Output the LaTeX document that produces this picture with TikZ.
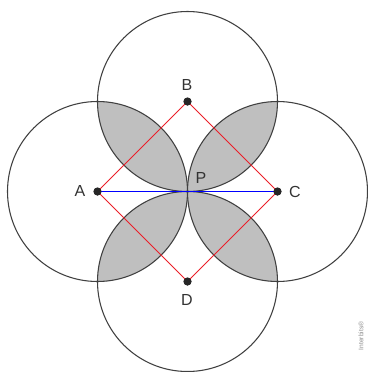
\documentclass[tikz,border=0pt]{standalone}
\usepackage{fontspec}
\setmainfont{Liberation Sans}
\definecolor{sidered}{RGB}{235,30,40}
\begin{document}
\begin{tikzpicture}[x=0.75pt,y=-0.75pt,
  circ/.style={draw=black!75,line width=0.8pt},
  lens/.style={fill=black!25},
  side/.style={draw=sidered,line width=0.6pt},
  acline/.style={draw=blue,line width=1pt},
  pt/.style={circle,fill=black!85,inner sep=0pt,minimum size=6pt},
  lbl/.style={text=black!80,font=\fontsize{12}{13}\selectfont,inner sep=0pt}]
\useasboundingbox (0,0) rectangle (368,372);
\coordinate (cA) at (97.5,191.5);
\coordinate (cB) at (187.5,101.5);
\coordinate (cC) at (277.5,191.5);
\coordinate (cD) at (187.5,281.5);
\coordinate (cP) at (187.5,191.5);
% lenses
\begin{scope}\clip (cA) circle (67.5pt); \fill[lens] (cB) circle (67.5pt);\end{scope}
\begin{scope}\clip (cB) circle (67.5pt); \fill[lens] (cC) circle (67.5pt);\end{scope}
\begin{scope}\clip (cC) circle (67.5pt); \fill[lens] (cD) circle (67.5pt);\end{scope}
\begin{scope}\clip (cD) circle (67.5pt); \fill[lens] (cA) circle (67.5pt);\end{scope}
% circles
\foreach \c in {cA,cB,cC,cD} \draw[circ] (\c) circle (67.5pt);
% points
\node[pt] (A) at (cA) {};
\node[pt] (B) at (cB) {};
\node[pt] (C) at (cC) {};
\node[pt] (D) at (cD) {};
\node[inner sep=0pt] (P) at (cP) {};
% lines
\draw[side] (A.center) -- (B.center) -- (C.center) -- (D.center) -- cycle;
\draw[acline] (A.center) -- (C.center);
\node[pt] at (cA) {};
\node[pt] at (cB) {};
\node[pt] at (cC) {};
\node[pt] at (cD) {};
% labels
\node[lbl] (lA) at (80,191) {A};
\node[lbl] (lB) at (187,85) {B};
\node[lbl] (lC) at (295,192) {C};
\node[lbl] (lD) at (187,300) {D};
\node[lbl] (lP) at (201,178) {P};
\node[text=black!45,font=\fontsize{5}{5}\selectfont,rotate=90,inner sep=0pt] (wm) at (361,336) {Interbits\textregistered};
\end{tikzpicture}
\end{document}
